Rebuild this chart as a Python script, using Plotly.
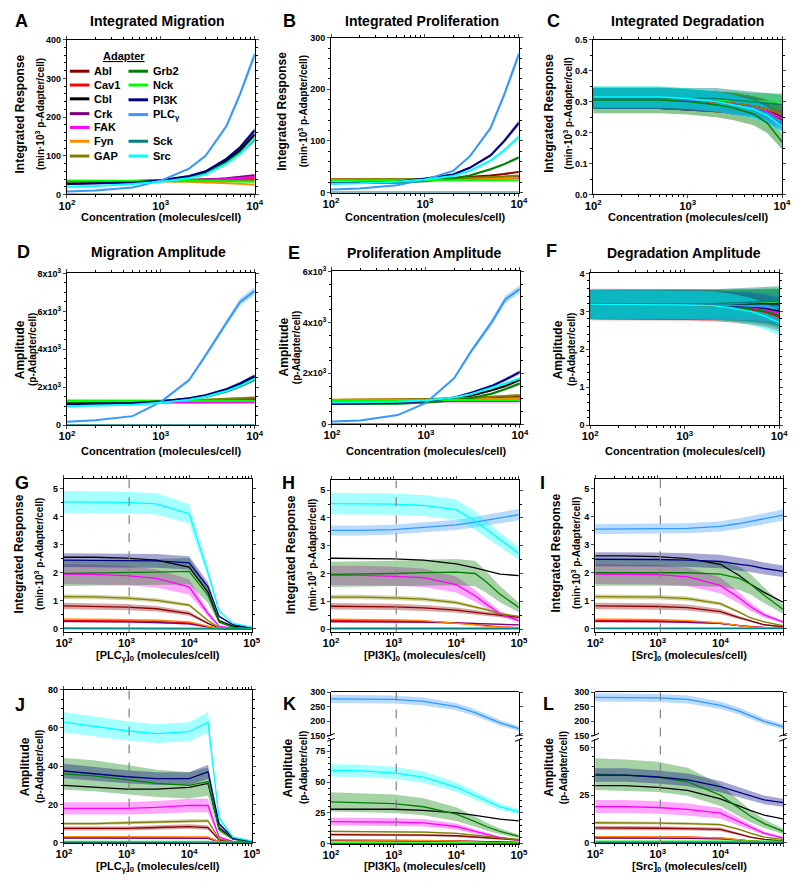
import plotly.graph_objects as go

WIN_W, WIN_H = 800, 886
PAGE_MARGIN = 8                      # browser body margin around the plot div
W, H = WIN_W - 2 * PAGE_MARGIN, WIN_H - 2 * PAGE_MARGIN
FONT = "Liberation Sans, Arial, sans-serif"

# ---------------- categories / styles ----------------
ADAPTERS = ["Abl", "Cav1", "Cbl", "Crk", "FAK", "Fyn", "GAP",
            "Grb2", "Nck", "PI3K", "PLCγ", "Sck", "Src"]
LEGEND_NAMES = ["Abl", "Cav1", "Cbl", "Crk", "FAK", "Fyn", "GAP",
                "Grb2", "Nck", "PI3K", "PLC<sub>γ</sub>", "Sck", "Src"]
COLORS = ["#8B0000", "#FF0000", "#000000", "#800080", "#FF00FF", "#FF8C00", "#808000",
          "#008000", "#00FF00", "#000080", "#3399FF", "#008080", "#00FFFF"]

# ---------------- x values ----------------
CONC = [100, 200, 500, 1000, 2000, 3000, 5000, 7000, 10000]
SWEEP = [100, 300, 1000, 3000, 10000, 20000, 30000, 50000, 100000]
DASH_X = 1100

A_MIG = {
    "Abl":  [34, 34, 35, 36, 37, 38, 40, 42, 45],
    "Cav1": [34, 34, 34, 35, 35, 36, 37, 38, 40],
    "Cbl":  [28, 29, 31, 36, 46, 58, 88, 115, 155],
    "Crk":  [33, 33, 34, 35, 37, 39, 42, 45, 50],
    "FAK":  [33, 33, 34, 35, 36, 38, 40, 42, 45],
    "Fyn":  [35, 35, 35, 34, 33, 32, 30, 28, 25],
    "GAP":  [33, 33, 34, 34, 35, 35, 36, 36, 37],
    "Grb2": [34, 34, 35, 37, 44, 55, 83, 108, 142],
    "Nck":  [36, 36, 36, 35, 35, 35, 34, 34, 33],
    "PI3K": [27, 28, 31, 37, 48, 60, 92, 122, 166],
    "PLCγ": [8, 10, 18, 36, 67, 100, 177, 260, 362],
    "Sck":  [0, 0, 0, 0, 0, 0, 0, 0, 0],
    "Src":  [20, 22, 27, 33, 42, 52, 80, 105, 145],
}
B_PRO = {
    "Abl":  [25, 25, 25, 26, 28, 30, 33, 36, 40],
    "Cav1": [25, 25, 25, 25, 26, 26, 27, 27, 28],
    "Cbl":  [24, 24, 25, 25, 26, 27, 28, 29, 31],
    "Crk":  [25, 25, 25, 25, 26, 27, 28, 29, 30],
    "FAK":  [25, 25, 25, 25, 26, 26, 27, 27, 28],
    "Fyn":  [25, 25, 25, 25, 26, 26, 27, 28, 29],
    "GAP":  [25, 25, 25, 26, 27, 28, 30, 31, 33],
    "Grb2": [18, 18, 19, 22, 27, 33, 45, 55, 68],
    "Nck":  [24, 24, 24, 24, 24, 24, 24, 24, 24],
    "PI3K": [18, 19, 21, 27, 35, 48, 72, 100, 135],
    "PLCγ": [6, 8, 14, 25, 42, 70, 125, 190, 268],
    "Sck":  [0, 0, 0, 0, 0, 0, 0, 0, 0],
    "Src":  [17, 18, 21, 25, 32, 42, 62, 82, 108],
}
C_DEG = {
    "Abl":  [.31, .31, .31, .305, .30, .295, .285, .275, .25],
    "Cav1": [.31, .31, .31, .305, .30, .295, .285, .27, .24],
    "Cbl":  [.31, .31, .31, .305, .30, .295, .285, .275, .26],
    "Crk":  [.31, .31, .31, .305, .30, .295, .285, .27, .25],
    "FAK":  [.31, .31, .31, .305, .30, .295, .285, .27, .245],
    "Fyn":  [.31, .31, .31, .305, .30, .295, .285, .275, .26],
    "GAP":  [.31, .31, .31, .305, .30, .295, .285, .275, .26],
    "Grb2": [.305, .305, .305, .30, .29, .28, .26, .23, .17],
    "Nck":  [.31, .31, .31, .31, .305, .305, .30, .30, .30],
    "PI3K": [.31, .31, .31, .305, .30, .29, .28, .26, .23],
    "PLCγ": [.31, .31, .31, .305, .30, .29, .28, .26, .23],
    "Sck":  [.31, .31, .31, .31, .31, .305, .30, .295, .29],
    "Src":  [.315, .315, .315, .31, .30, .29, .275, .255, .22],
}
D_MAMP = {
    "Abl":  [1250, 1250, 1260, 1270, 1290, 1310, 1350, 1380, 1420],
    "Cav1": [1250, 1250, 1250, 1260, 1270, 1280, 1300, 1320, 1340],
    "Cbl":  [1120, 1130, 1170, 1250, 1400, 1550, 1850, 2150, 2550],
    "Crk":  [1200, 1200, 1210, 1220, 1240, 1260, 1290, 1310, 1340],
    "FAK":  [1180, 1180, 1180, 1190, 1190, 1200, 1200, 1200, 1210],
    "Fyn":  [1300, 1300, 1300, 1300, 1300, 1300, 1300, 1300, 1290],
    "GAP":  [1250, 1250, 1260, 1280, 1310, 1340, 1380, 1420, 1460],
    "Grb2": [1200, 1200, 1220, 1270, 1380, 1500, 1780, 2050, 2400],
    "Nck":  [1280, 1280, 1280, 1280, 1280, 1280, 1280, 1280, 1280],
    "PI3K": [1120, 1130, 1170, 1260, 1420, 1580, 1900, 2200, 2600],
    "PLCγ": [190, 260, 480, 1230, 2380, 3680, 5400, 6500, 7080],
    "Sck":  [0, 0, 0, 0, 0, 0, 0, 0, 0],
    "Src":  [1000, 1020, 1080, 1180, 1350, 1500, 1800, 2080, 2450],
}
E_PAMP = {
    "Abl":  [950, 950, 960, 980, 1000, 1020, 1050, 1080, 1100],
    "Cav1": [950, 950, 950, 960, 970, 980, 990, 1000, 1010],
    "Cbl":  [850, 860, 880, 930, 1020, 1120, 1330, 1500, 1750],
    "Crk":  [930, 930, 930, 940, 950, 960, 980, 990, 1000],
    "FAK":  [900, 900, 900, 900, 900, 900, 900, 900, 900],
    "Fyn":  [960, 960, 960, 960, 970, 980, 990, 1000, 1010],
    "GAP":  [950, 950, 960, 980, 1010, 1040, 1080, 1110, 1140],
    "Grb2": [800, 800, 810, 850, 930, 1020, 1200, 1380, 1600],
    "Nck":  [950, 950, 950, 950, 950, 950, 950, 950, 950],
    "PI3K": [800, 810, 840, 900, 1050, 1230, 1500, 1750, 2050],
    "PLCγ": [110, 150, 360, 840, 1810, 2840, 4000, 4900, 5310],
    "Sck":  [0, 0, 0, 0, 0, 0, 0, 0, 0],
    "Src":  [850, 860, 880, 930, 1050, 1180, 1420, 1600, 1800],
}
F_DAMP = {
    "Abl":  [3.18, 3.18, 3.18, 3.17, 3.16, 3.14, 3.10, 3.05, 2.95],
    "Cav1": [3.18, 3.18, 3.18, 3.17, 3.15, 3.12, 3.05, 2.98, 2.85],
    "Cbl":  [3.18, 3.18, 3.18, 3.18, 3.18, 3.18, 3.19, 3.20, 3.20],
    "Crk":  [3.18, 3.18, 3.18, 3.17, 3.16, 3.14, 3.10, 3.05, 2.95],
    "FAK":  [3.18, 3.18, 3.18, 3.17, 3.16, 3.14, 3.10, 3.05, 2.95],
    "Fyn":  [3.18, 3.18, 3.18, 3.17, 3.16, 3.14, 3.12, 3.08, 3.00],
    "GAP":  [3.18, 3.18, 3.18, 3.17, 3.16, 3.14, 3.12, 3.08, 3.00],
    "Grb2": [3.18, 3.18, 3.18, 3.17, 3.15, 3.12, 3.06, 3.00, 2.90],
    "Nck":  [3.18, 3.18, 3.18, 3.19, 3.20, 3.21, 3.23, 3.24, 3.25],
    "PI3K": [3.18, 3.18, 3.18, 3.17, 3.16, 3.14, 3.12, 3.08, 3.00],
    "PLCγ": [3.18, 3.18, 3.18, 3.18, 3.17, 3.16, 3.14, 3.12, 3.10],
    "Sck":  [3.18, 3.18, 3.18, 3.19, 3.20, 3.22, 3.24, 3.26, 3.27],
    "Src":  [3.18, 3.18, 3.18, 3.17, 3.15, 3.10, 3.00, 2.88, 2.70],
}
G_IR_PLC = {
    "Abl":  [0.82, 0.81, 0.78, 0.72, 0.55, 0.20, 0.03, 0.01, 0.0],
    "Cav1": [0.30, 0.30, 0.29, 0.27, 0.22, 0.08, 0.02, 0.0, 0.0],
    "Cbl":  [2.55, 2.55, 2.52, 2.45, 2.20, 1.30, 0.30, 0.10, 0.04],
    "Crk":  [0.27, 0.27, 0.25, 0.23, 0.18, 0.07, 0.01, 0.0, 0.0],
    "FAK":  [1.95, 1.94, 1.90, 1.80, 1.50, 0.55, 0.10, 0.03, 0.01],
    "Fyn":  [0.35, 0.35, 0.33, 0.31, 0.25, 0.10, 0.02, 0.0, 0.0],
    "GAP":  [1.15, 1.14, 1.10, 1.02, 0.85, 0.30, 0.05, 0.01, 0.0],
    "Grb2": [1.98, 1.99, 2.00, 2.02, 2.05, 1.20, 0.25, 0.06, 0.02],
    "Nck":  [0.05, 0.05, 0.05, 0.05, 0.05, 0.04, 0.03, 0.02, 0.02],
    "PI3K": [2.45, 2.45, 2.43, 2.42, 2.35, 1.50, 0.45, 0.15, 0.05],
    "Sck":  [0.01, 0.01, 0.01, 0.01, 0.01, 0.01, 0.0, 0.0, 0.0],
    "Src":  [4.52, 4.52, 4.50, 4.45, 4.10, 2.00, 0.65, 0.20, 0.07],
}
H_IR_PI3K = {
    "Abl":  [0.82, 0.82, 0.80, 0.76, 0.68, 0.60, 0.55, 0.48, 0.42],
    "Cav1": [0.30, 0.30, 0.29, 0.27, 0.22, 0.16, 0.12, 0.08, 0.05],
    "Cbl":  [2.55, 2.55, 2.53, 2.48, 2.35, 2.20, 2.10, 1.98, 1.92],
    "Crk":  [0.27, 0.27, 0.26, 0.25, 0.22, 0.20, 0.18, 0.16, 0.15],
    "FAK":  [1.93, 1.93, 1.90, 1.85, 1.60, 1.20, 0.90, 0.55, 0.30],
    "Fyn":  [0.35, 0.35, 0.33, 0.30, 0.22, 0.15, 0.10, 0.06, 0.03],
    "GAP":  [1.15, 1.15, 1.12, 1.08, 0.95, 0.80, 0.70, 0.55, 0.45],
    "Grb2": [1.97, 1.98, 2.00, 2.03, 2.05, 2.00, 1.70, 1.25, 0.78],
    "Nck":  [0.04, 0.04, 0.04, 0.04, 0.04, 0.04, 0.04, 0.04, 0.04],
    "PLCγ": [3.55, 3.55, 3.58, 3.65, 3.75, 3.85, 3.92, 4.00, 4.12],
    "Sck":  [0.01, 0.01, 0.01, 0.01, 0.01, 0.01, 0.01, 0.01, 0.01],
    "Src":  [4.52, 4.52, 4.50, 4.45, 4.30, 3.90, 3.60, 3.20, 2.72],
}
I_IR_SRC = {
    "Abl":  [0.82, 0.82, 0.80, 0.76, 0.62, 0.40, 0.28, 0.15, 0.08],
    "Cav1": [0.30, 0.30, 0.29, 0.27, 0.20, 0.12, 0.08, 0.05, 0.03],
    "Cbl":  [2.60, 2.60, 2.57, 2.50, 2.30, 1.90, 1.60, 1.30, 0.95],
    "Crk":  [0.27, 0.27, 0.26, 0.24, 0.20, 0.12, 0.08, 0.06, 0.05],
    "FAK":  [1.95, 1.95, 1.93, 1.85, 1.55, 1.10, 0.80, 0.50, 0.25],
    "Fyn":  [0.35, 0.35, 0.33, 0.30, 0.22, 0.12, 0.07, 0.04, 0.02],
    "GAP":  [1.15, 1.15, 1.13, 1.08, 0.90, 0.60, 0.40, 0.25, 0.12],
    "Grb2": [2.00, 2.00, 2.00, 2.00, 1.95, 1.80, 1.60, 1.20, 0.70],
    "Nck":  [0.04, 0.04, 0.04, 0.04, 0.04, 0.04, 0.04, 0.04, 0.04],
    "PI3K": [2.48, 2.48, 2.47, 2.45, 2.40, 2.30, 2.25, 2.15, 2.05],
    "PLCγ": [3.55, 3.55, 3.57, 3.58, 3.65, 3.75, 3.82, 3.92, 4.05],
    "Sck":  [0.01, 0.01, 0.01, 0.01, 0.01, 0.01, 0.01, 0.01, 0.01],
}
J_AMP_PLC = {
    "Abl":  [7.5, 7.5, 7.5, 8.0, 8.5, 8.0, 1.5, 0.4, 0.1],
    "Cav1": [3.0, 3.0, 3.0, 3.0, 3.0, 2.8, 0.6, 0.2, 0.0],
    "Cbl":  [30, 29, 28, 28, 29, 31, 8, 2, 0.5],
    "Crk":  [2.5, 2.5, 2.5, 2.5, 2.5, 2.3, 0.5, 0.1, 0.0],
    "FAK":  [18, 18, 18, 18.5, 19.5, 19.5, 3, 0.8, 0.3],
    "Fyn":  [3.2, 3.2, 3.2, 3.2, 3.2, 3.0, 0.6, 0.2, 0.0],
    "GAP":  [10, 10, 10.5, 11, 11.5, 11.5, 2, 0.5, 0.2],
    "Grb2": [36, 35, 33, 31, 30, 32, 7, 2, 0.5],
    "Nck":  [0.8, 0.8, 0.8, 0.8, 0.8, 0.8, 0.3, 0.1, 0.0],
    "PI3K": [37.5, 36, 34.5, 33.5, 33.5, 37, 10, 2.5, 0.8],
    "Sck":  [0.2, 0.2, 0.2, 0.2, 0.2, 0.2, 0.1, 0.0, 0.0],
    "Src":  [63, 61, 58.5, 57, 58, 63, 13, 3, 1],
}
K_AMP_PI3K = {
    "Abl":  [7.5, 7.5, 7.3, 7.0, 6.5, 5.5, 4.8, 3.8, 3.0],
    "Cav1": [3.0, 3.0, 3.0, 2.8, 2.4, 2.0, 1.7, 1.3, 1.0],
    "Cbl":  [28, 28, 28, 27, 25, 23, 21.5, 20, 18.5],
    "Crk":  [2.5, 2.5, 2.5, 2.4, 2.2, 2.0, 1.8, 1.5, 1.2],
    "FAK":  [18, 18, 17.5, 17, 14, 10, 8, 5, 3],
    "Fyn":  [3.2, 3.2, 3.1, 2.8, 2.2, 1.5, 1.0, 0.6, 0.3],
    "GAP":  [10, 10, 10, 9.5, 8.5, 7, 6, 4.5, 3.5],
    "Grb2": [34, 33.5, 32.5, 30, 24, 18, 14, 10, 6],
    "Nck":  [0.8, 0.8, 0.8, 0.8, 0.8, 0.8, 0.8, 0.8, 0.8],
    "PLCγ": [277, 277, 275, 268, 250, 230, 215, 195, 175],
    "Sck":  [0.2, 0.2, 0.2, 0.2, 0.2, 0.2, 0.2, 0.2, 0.2],
    "Src":  [59.5, 59, 57.5, 54, 46, 39, 35, 30, 26],
}
L_AMP_SRC = {
    "Abl":  [7.8, 7.8, 7.6, 7.4, 7.0, 4.5, 3.0, 1.8, 1.0],
    "Cav1": [3.0, 3.0, 3.0, 2.9, 2.5, 1.5, 1.0, 0.6, 0.3],
    "Cbl":  [30, 30, 29, 27.5, 23, 19, 17, 14.5, 12.5],
    "Crk":  [2.5, 2.5, 2.4, 2.3, 2.0, 1.2, 0.8, 0.5, 0.3],
    "FAK":  [19, 19, 18.5, 17.5, 15.5, 11, 8, 5, 2.5],
    "Fyn":  [3.2, 3.2, 3.1, 3.0, 2.6, 1.5, 1.0, 0.5, 0.3],
    "GAP":  [10.5, 10.5, 10.3, 10, 9.5, 7, 5, 3, 1.8],
    "Grb2": [36, 35.5, 34.5, 32, 25, 18, 14, 10, 6],
    "Nck":  [0.8, 0.8, 0.8, 0.8, 0.8, 0.8, 0.8, 0.8, 0.8],
    "PI3K": [35.5, 35.5, 34.5, 33, 29.5, 26.5, 24.5, 22.5, 21],
    "PLCγ": [282, 282, 280, 275, 255, 235, 220, 200, 182],
    "Sck":  [0.2, 0.2, 0.2, 0.2, 0.2, 0.2, 0.2, 0.2, 0.2],
}

CV_TOP = {"Abl": .04, "Cav1": .04, "Cbl": .04, "Crk": .04, "FAK": .04, "Fyn": .04, "GAP": .04,
          "Grb2": .04, "Nck": .04, "PI3K": .04, "PLCγ": .03, "Sck": 0, "Src": .04}
CV_C = {"Abl": .11, "Cav1": .11, "Cbl": .11, "Crk": .11, "FAK": .11, "Fyn": .11, "GAP": .11,
        "Grb2": .14, "Nck": .09, "PI3K": .11, "PLCγ": .11, "Sck": .11, "Src": .11}
CV_F = {"Abl": .12, "Cav1": .13, "Cbl": .12, "Crk": .12, "FAK": .12, "Fyn": .12, "GAP": .12,
        "Grb2": .12, "Nck": .11, "PI3K": .12, "PLCγ": .12, "Sck": .12, "Src": .12}
CV_SWEEP = {"Abl": .14, "Cav1": .1, "Cbl": 0, "Crk": .15, "FAK": .18, "Fyn": .1, "GAP": .07,
            "Grb2": .23, "Nck": .1, "PI3K": .1, "PLCγ": .05, "Sck": .1, "Src": .085}


def px_x(p):
    return (p - PAGE_MARGIN) / W


def px_y(p):
    return 1 - (p - PAGE_MARGIN) / H


def rgba(hexc, a):
    h = hexc.lstrip("#")
    return "rgba(%d,%d,%d,%.2f)" % (int(h[0:2], 16), int(h[2:4], 16), int(h[4:6], 16), a)


fig = go.Figure()


def add_panel(xref, yrefs, xs, means, cv, lw, alpha):
    names = [a for a in ADAPTERS if a in means]
    for yref in yrefs:
        for a in names:
            i = ADAPTERS.index(a)
            c = cv[a]
            if c <= 0:
                continue
            m = means[a]
            lo = [v * (1 - c) for v in m]
            hi = [v * (1 + c) for v in m]
            fig.add_trace(go.Scatter(x=xs, y=lo, xaxis=xref, yaxis=yref, mode="lines",
                                     line=dict(width=0, color=COLORS[i]), showlegend=False,
                                     hoverinfo="skip"))
            fig.add_trace(go.Scatter(x=xs, y=hi, xaxis=xref, yaxis=yref, mode="lines",
                                     line=dict(width=0, color=COLORS[i]), fill="tonexty",
                                     fillcolor=rgba(COLORS[i], alpha), showlegend=False,
                                     hoverinfo="skip"))
        for a in names:
            i = ADAPTERS.index(a)
            fig.add_trace(go.Scatter(x=xs, y=means[a], xaxis=xref, yaxis=yref, mode="lines",
                                     line=dict(width=lw, color=COLORS[i]),
                                     name=ADAPTERS[i], showlegend=False))


add_panel("x", ["y"], CONC, A_MIG, CV_TOP, 2, 0.35)
add_panel("x2", ["y2"], CONC, B_PRO, CV_TOP, 2, 0.35)
add_panel("x3", ["y3"], CONC, C_DEG, CV_C, 1.5, 0.45)
add_panel("x4", ["y4"], CONC, D_MAMP, CV_TOP, 2, 0.35)
add_panel("x5", ["y5"], CONC, E_PAMP, CV_TOP, 2, 0.35)
add_panel("x6", ["y6"], CONC, F_DAMP, CV_F, 1.5, 0.45)
add_panel("x7", ["y7"], SWEEP, G_IR_PLC, CV_SWEEP, 1.3, 0.35)
add_panel("x8", ["y8"], SWEEP, H_IR_PI3K, CV_SWEEP, 1.3, 0.35)
add_panel("x9", ["y9"], SWEEP, I_IR_SRC, CV_SWEEP, 1.3, 0.35)
add_panel("x10", ["y10"], SWEEP, J_AMP_PLC, CV_SWEEP, 1.3, 0.35)
add_panel("x11", ["y11", "y13"], SWEEP, K_AMP_PI3K, CV_SWEEP, 1.3, 0.35)
add_panel("x12", ["y12", "y14"], SWEEP, L_AMP_SRC, CV_SWEEP, 1.3, 0.35)

TICKFONT = dict(family=FONT, size=9, color="black", weight="bold")


def xcfg(dom, anchor, rng, mirror="allticks"):
    return dict(domain=[px_x(dom[0]), px_x(dom[1])], anchor=anchor, type="log", range=rng,
                tickmode="linear", tick0=0, dtick=1, exponentformat="power",
                showexponent="all", showline=True, linecolor="black", linewidth=1,
                mirror=mirror, ticks="outside", ticklen=3, tickfont=TICKFONT,
                ticklabelstandoff=-2,
                minor=dict(ticks="outside", ticklen=2, dtick="D1", tickcolor="black"),
                showgrid=False, zeroline=False)


def ycfg(dom, anchor, rng, tickvals, ticktext=None, fmt=None):
    d = dict(domain=[px_y(dom[1]), px_y(dom[0])], anchor=anchor, range=rng,
             tickmode="array", tickvals=tickvals, showline=True, linecolor="black",
             linewidth=1, mirror="allticks", ticks="outside", ticklen=3, tickfont=TICKFONT,
             showgrid=False, zeroline=False,
             minor=dict(ticks="outside", ticklen=2, tickcolor="black"))
    if ticktext is not None:
        d["ticktext"] = ticktext
    if fmt:
        d["tickformat"] = fmt
    return d


# plot-area extents in window pixels
X_DOM = {1: (60, 252), 2: (330, 522), 3: (598, 791), 4: (60, 252), 5: (331, 523),
         6: (595, 788), 7: (57, 249), 8: (330, 522), 9: (600, 792), 10: (57, 249),
         11: (330, 522), 12: (600, 792)}
Y_DOM = {1: (33, 190), 2: (31, 188), 3: (33, 190), 4: (270, 424), 5: (268, 423),
         6: (270, 424), 7: (478, 634), 8: (480, 634), 9: (478, 634), 10: (692, 848),
         11: (742, 849), 12: (742, 848), 13: (694, 739), 14: (694, 739)}

lay = {}
for n in range(1, 13):
    key = "xaxis" if n == 1 else "xaxis%d" % n
    rng = [2, 4] if n <= 6 else [2, 5]
    anchor = "y" if n == 1 else "y%d" % n
    lay[key] = xcfg(X_DOM[n], anchor, rng, mirror=(False if n in (11, 12) else "allticks"))

lay["yaxis"] = ycfg(Y_DOM[1], "x", [0, 400], [0, 100, 200, 300, 400])
lay["yaxis2"] = ycfg(Y_DOM[2], "x2", [0, 300], [0, 100, 200, 300])
lay["yaxis3"] = ycfg(Y_DOM[3], "x3", [0, 0.5], [0, 0.1, 0.2, 0.3, 0.4, 0.5], fmt=".1f")
lay["yaxis4"] = ycfg(Y_DOM[4], "x4", [0, 8000], [0, 2000, 4000, 6000, 8000],
                     ["0", "2x10<sup>3</sup>", "4x10<sup>3</sup>", "6x10<sup>3</sup>", "8x10<sup>3</sup>"])
lay["yaxis5"] = ycfg(Y_DOM[5], "x5", [0, 6000], [0, 2000, 4000, 6000],
                     ["0", "2x10<sup>3</sup>", "4x10<sup>3</sup>", "6x10<sup>3</sup>"])
lay["yaxis6"] = ycfg(Y_DOM[6], "x6", [0, 4], [0, 1, 2, 3, 4])
for n in (7, 8, 9):
    lay["yaxis%d" % n] = ycfg(Y_DOM[n], "x%d" % n, [-0.12, 5.35], [0, 1, 2, 3, 4, 5])
lay["yaxis10"] = ycfg(Y_DOM[10], "x10", [-0.3, 80], [0, 20, 40, 60, 80])
lay["yaxis11"] = ycfg(Y_DOM[11], "x11", [-0.5, 85], [0, 25, 50, 75])
lay["yaxis12"] = ycfg(Y_DOM[12], "x12", [-0.35, 54.5], [0, 25, 50])
lay["yaxis13"] = ycfg(Y_DOM[13], "x11", [150, 302], [150, 200, 250, 300])
lay["yaxis14"] = ycfg(Y_DOM[14], "x12", [150, 302], [150, 200, 250, 300])
for k in ("yaxis13", "yaxis14"):
    lay[k]["minor"] = dict(ticks="")

ann = []


def text(x, y, s, size, angle=0, bold=True, xanchor="center"):
    ann.append(dict(x=px_x(x), y=px_y(y), xref="paper", yref="paper", text=s, showarrow=False,
                    textangle=angle, xanchor=xanchor, yanchor="middle",
                    font=dict(family=FONT, size=size, color="black",
                              weight=("bold" if bold else "normal"))))


for (lx, ly, s) in [(14, 14, "A"), (288, 14, "B"), (557, 14, "C"), (16, 248, "D"),
                    (292, 249, "E"), (555, 247, "F"), (14, 483, "G"), (287, 483, "H"),
                    (546, 483, "I"), (12, 708, "J"), (288, 707, "K"), (552, 707, "L")]:
    text(lx, ly, s, 18)

for (tx, ty, s) in [(153, 14, "Integrated Migration"), (423, 14, "Integrated Proliferation"),
                    (694, 14, "Integrated Degradation"), (154, 248, "Migration Amplitude"),
                    (425, 249, "Proliferation Amplitude"), (691, 249, "Degradation Amplitude")]:
    text(tx, ty, s, 14)

CONC_T = "Concentration (molecules/cell)"
for n, ty in [(1, 213), (2, 213), (3, 213), (4, 450), (5, 450), (6, 450)]:
    text(sum(X_DOM[n]) / 2, ty, CONC_T, 11)
text(sum(X_DOM[7]) / 2, 658, "[PLC<sub>γ</sub>]<sub>0</sub> (molecules/cell)", 11)
text(sum(X_DOM[8]) / 2, 658, "[PI3K]<sub>0</sub> (molecules/cell)", 11)
text(sum(X_DOM[9]) / 2, 658, "[Src]<sub>0</sub> (molecules/cell)", 11)
text(sum(X_DOM[10]) / 2, 872, "[PLC<sub>γ</sub>]<sub>0</sub> (molecules/cell)", 11)
text(sum(X_DOM[11]) / 2, 872, "[PI3K]<sub>0</sub> (molecules/cell)", 11)
text(sum(X_DOM[12]) / 2, 872, "[Src]<sub>0</sub> (molecules/cell)", 11)

IR1 = "Integrated Response"
IR2 = "(min·10<sup>3</sup> p-Adapter/cell)"
AM1 = "Amplitude"
AM2 = "(p-Adapter/cell)"
for (x1, x2, yc, t1, t2) in [
        (12, 32, 108, IR1, IR2), (280, 301, 106, IR1, IR2), (552, 572, 108, IR1, IR2),
        (12, 25, 347, AM1, AM2), (282, 295, 345, AM1, AM2), (562, 576, 347, AM1, AM2),
        (12, 32, 554, IR1, IR2), (290, 311, 555, IR1, IR2), (560, 581, 554, IR1, IR2),
        (18, 32, 770, AM1, AM2), (287, 302, 771, AM1, AM2), (553, 568, 771, AM1, AM2)]:
    text(x1, yc, t1, 12, angle=-90)
    text(x2, yc, t2, 10, angle=-90)

# ---------------- custom legend (panel A) ----------------
text(118, 50, "<u>Adapter</u>", 11)
LEG_ROWS = [65, 79, 93, 108, 122, 136, 151, 65, 79, 94, 109, 136, 151]
shapes = []
for i, a in enumerate(ADAPTERS):
    col_x = 63 if i < 7 else 123
    yy = LEG_ROWS[i]
    shapes.append(dict(type="line", xref="paper", yref="paper",
                       x0=px_x(col_x), x1=px_x(col_x + 20), y0=px_y(yy), y1=px_y(yy),
                       line=dict(color=COLORS[i], width=3)))
    text(col_x + 23, yy, LEGEND_NAMES[i], 11, xanchor="left")

for xr, yr in [("x7", "y7"), ("x8", "y8"), ("x9", "y9"), ("x10", "y10")]:
    shapes.append(dict(type="line", xref=xr, yref=yr + " domain", x0=DASH_X, x1=DASH_X,
                       y0=0, y1=1, line=dict(color="gray", width=1.2, dash="dash")))
for xr in ("x11", "x12"):
    shapes.append(dict(type="line", xref=xr, yref="paper", x0=DASH_X, x1=DASH_X,
                       y0=px_y(849), y1=px_y(694), line=dict(color="gray", width=1.2, dash="dash")))
    shapes.append(dict(type="line", xref=xr + " domain", yref="paper", x0=0, x1=1,
                       y0=px_y(694), y1=px_y(694), line=dict(color="black", width=1)))
    for xd in (0, 1):
        for yy in (738, 743):
            shapes.append(dict(type="line", xref=xr + " domain", yref="paper",
                               x0=xd - 0.02, x1=xd + 0.02, y0=px_y(yy + 1.5), y1=px_y(yy - 1.5),
                               line=dict(color="black", width=1)))

fig.update_layout(**lay)
fig.update_layout(
    width=W, height=H, margin=dict(l=0, r=0, t=0, b=0),
    paper_bgcolor="white", plot_bgcolor="white",
    font=dict(family=FONT, color="black"),
    annotations=ann, shapes=shapes, showlegend=False,
)

fig.write_html("out.html")
